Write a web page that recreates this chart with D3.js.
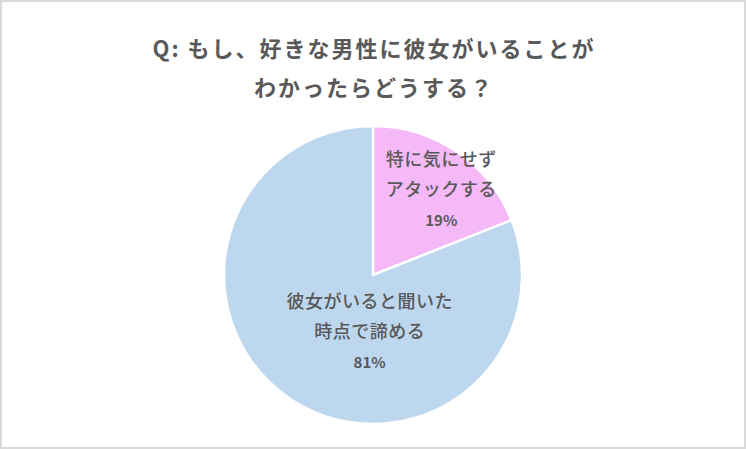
<!DOCTYPE html>
<html lang="ja">
<head>
<meta charset="utf-8">
<script src="https://d3js.org/d3.v7.min.js"></script>
<style>
  body, html { margin: 0; padding: 0; background: #fff; }
  text { font-family: "Noto Sans CJK JP", "Noto Sans", sans-serif; fill: #595959; }
</style>
</head>
<body>
<div id="chart"></div>
<script>
var titleLines = ["Q: もし、好きな男性に彼女がいることが", "わかったらどうする？"]
var categories = ["特に気にせず|アタックする", "彼女がいると聞いた|時点で諦める"]
var values = [19, 81]
var colors = ["#F6B9F7", "#BDD7EE"]

var W = 746, H = 449
var svg = d3.select("#chart").append("svg")
  .attr("width", W).attr("height", H)

svg.append("rect")
  .attr("x", 1).attr("y", 1)
  .attr("width", W - 2).attr("height", H - 2)
  .attr("fill", "#fff")
  .attr("stroke", "#d9d9d9")
  .attr("stroke-width", 2)

titleLines.forEach(function (t, i) {
  svg.append("text")
    .attr("x", W / 2 + 1)
    .attr("y", 57 + i * 39)
    .attr("text-anchor", "middle")
    .attr("font-size", 22)
    .attr("letter-spacing", 2)
    .attr("font-weight", "bold")
    .text(t)
})

var cx = 373, cy = 275, r = 149
var data = values.map(function (v, i) { return { name: categories[i], value: v, color: colors[i] } })

var pie = d3.pie().sort(null).value(function (d) { return d.value })
var arc = d3.arc().innerRadius(0).outerRadius(r)

var g = svg.append("g").attr("transform", "translate(" + cx + "," + cy + ")")
var arcs = pie(data)

g.selectAll("path")
  .data(arcs)
  .enter().append("path")
  .attr("d", arc)
  .attr("fill", function (d) { return d.data.color })
  .attr("stroke", "#fff")
  .attr("stroke-width", 2.5)

// labels sit near each slice's centroid, nudged like the original
var labelRadius = [0.72, 0.35]
var labelShift = [[8, 10], [26, 20]]

arcs.forEach(function (d, i) {
  var la = d3.arc().innerRadius(r * labelRadius[i]).outerRadius(r * labelRadius[i])
  var c = la.centroid(d)
  var x = c[0] + labelShift[i][0]
  var y = c[1] + labelShift[i][1]
  var lines = d.data.name.split("|").concat([d.data.value + "%"])
  lines.forEach(function (l, j) {
    g.append("text")
      .attr("x", x)
      .attr("y", y + (j - 1) * 30)
      .attr("text-anchor", "middle")
      .attr("font-size", j == 2 ? 15 : 18)
      .attr("letter-spacing", j == 2 ? 0 : 0.5)
      .attr("font-weight", j == 2 ? "bold" : 500)
      .text(l)
  })
})
</script>
</body>
</html>
